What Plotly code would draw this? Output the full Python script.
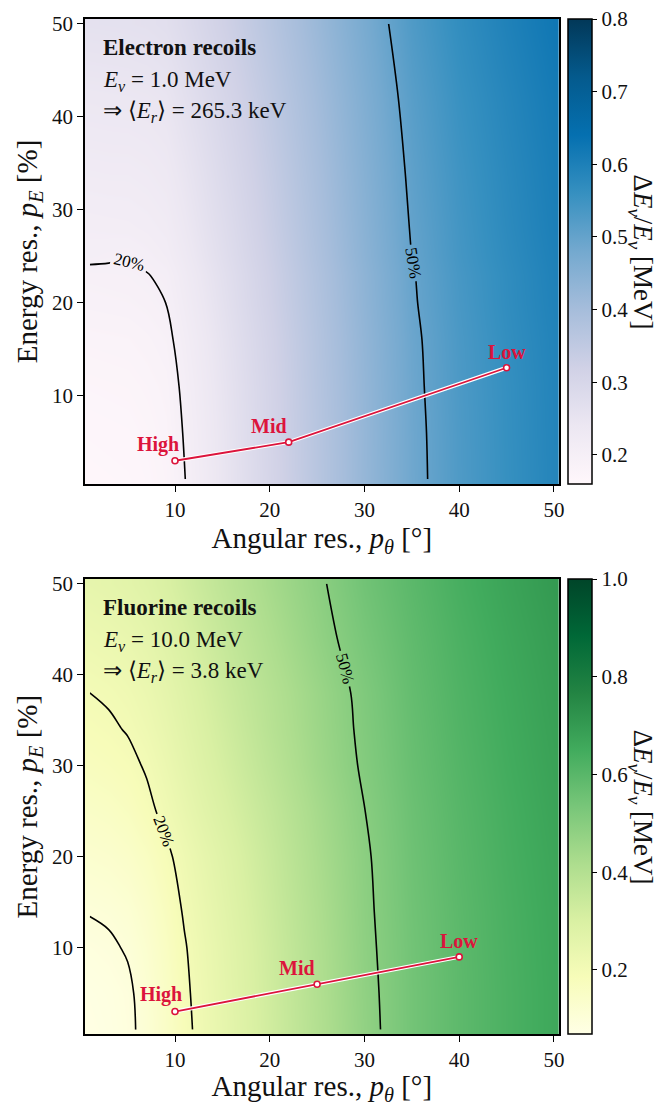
import plotly.graph_objects as go

# ---------------- data ----------------
ang_res = [1, 3, 5, 7, 9, 11, 13, 16, 20, 25, 30, 35, 40, 45, 50]  # p_theta [deg]

# Electron recoils (E_nu = 1.0 MeV)
e_energy_res = [1, 6, 11, 16, 20, 23, 25, 28, 34, 42, 50]  # p_E [%]
e_z = [
    [0.165, 0.166, 0.167, 0.171, 0.178, 0.199, 0.222, 0.258, 0.306, 0.366, 0.426, 0.486, 0.528, 0.560, 0.588],
    [0.168, 0.169, 0.170, 0.174, 0.181, 0.202, 0.224, 0.260, 0.308, 0.367, 0.427, 0.487, 0.529, 0.561, 0.589],
    [0.173, 0.174, 0.175, 0.179, 0.185, 0.206, 0.228, 0.263, 0.310, 0.370, 0.429, 0.489, 0.531, 0.562, 0.590],
    [0.180, 0.181, 0.182, 0.186, 0.192, 0.212, 0.233, 0.268, 0.314, 0.373, 0.432, 0.491, 0.533, 0.565, 0.592],
    [0.189, 0.190, 0.191, 0.194, 0.200, 0.219, 0.240, 0.274, 0.320, 0.377, 0.436, 0.495, 0.536, 0.568, 0.595],
    [0.194, 0.195, 0.196, 0.199, 0.205, 0.224, 0.245, 0.278, 0.323, 0.380, 0.438, 0.497, 0.538, 0.569, 0.597],
    [0.205, 0.203, 0.201, 0.206, 0.213, 0.230, 0.251, 0.283, 0.327, 0.384, 0.442, 0.500, 0.541, 0.572, 0.599],
    [0.209, 0.210, 0.211, 0.214, 0.220, 0.237, 0.257, 0.288, 0.332, 0.388, 0.445, 0.503, 0.543, 0.575, 0.602],
    [0.222, 0.223, 0.223, 0.226, 0.232, 0.248, 0.267, 0.298, 0.340, 0.395, 0.451, 0.508, 0.548, 0.579, 0.606],
    [0.239, 0.240, 0.241, 0.243, 0.248, 0.264, 0.282, 0.311, 0.352, 0.405, 0.460, 0.516, 0.556, 0.586, 0.613],
    [0.261, 0.262, 0.263, 0.265, 0.270, 0.284, 0.301, 0.328, 0.367, 0.418, 0.472, 0.527, 0.566, 0.596, 0.622],
]
e_levels = [0.2, 0.5]
e_pts_x = [10, 22, 45]
e_pts_y = [3, 5, 13]

# Fluorine recoils (E_nu = 10.0 MeV)
f_energy_res = [1, 5, 10, 14, 20, 25, 30, 34, 38, 44, 50]
f_z = [
    [0.074, 0.079, 0.089, 0.115, 0.149, 0.186, 0.219, 0.265, 0.325, 0.401, 0.477, 0.545, 0.590, 0.628, 0.660],
    [0.077, 0.082, 0.091, 0.119, 0.152, 0.190, 0.222, 0.268, 0.328, 0.404, 0.480, 0.545, 0.590, 0.628, 0.660],
    [0.088, 0.093, 0.104, 0.128, 0.160, 0.196, 0.227, 0.272, 0.332, 0.408, 0.484, 0.547, 0.592, 0.630, 0.662],
    [0.102, 0.107, 0.117, 0.139, 0.170, 0.205, 0.235, 0.279, 0.338, 0.413, 0.487, 0.550, 0.594, 0.632, 0.664],
    [0.128, 0.133, 0.143, 0.162, 0.189, 0.219, 0.248, 0.290, 0.348, 0.422, 0.491, 0.555, 0.599, 0.637, 0.668],
    [0.150, 0.156, 0.167, 0.187, 0.213, 0.240, 0.268, 0.308, 0.361, 0.431, 0.499, 0.560, 0.604, 0.641, 0.673],
    [0.172, 0.178, 0.187, 0.205, 0.230, 0.257, 0.285, 0.325, 0.378, 0.446, 0.509, 0.567, 0.610, 0.647, 0.678],
    [0.187, 0.193, 0.203, 0.220, 0.243, 0.269, 0.296, 0.336, 0.389, 0.452, 0.514, 0.571, 0.615, 0.651, 0.682],
    [0.200, 0.206, 0.216, 0.232, 0.254, 0.279, 0.306, 0.346, 0.395, 0.456, 0.518, 0.576, 0.619, 0.655, 0.686],
    [0.225, 0.231, 0.240, 0.255, 0.276, 0.300, 0.326, 0.364, 0.414, 0.475, 0.534, 0.585, 0.627, 0.663, 0.693],
    [0.250, 0.256, 0.265, 0.279, 0.299, 0.322, 0.347, 0.384, 0.432, 0.488, 0.548, 0.595, 0.637, 0.672, 0.702],
]
f_levels = [0.1, 0.2, 0.5]
f_pts_x = [10, 25, 40]
f_pts_y = [3, 6, 9]

pt_labels = ["High", "Mid", "Low"]
axis_ticks = [10, 20, 30, 40, 50]
e_cbar_ticks = [0.2, 0.3, 0.4, 0.5, 0.6, 0.7, 0.8]
f_cbar_ticks = [0.2, 0.4, 0.6, 0.8, 1.0]

panel_titles = [
    ["<b>Electron recoils</b>", "<i>E</i><sub><i>ν</i></sub> = 1.0 MeV", "⇒ ⟨<i>E</i><sub><i>r</i></sub>⟩ = 265.3 keV"],
    ["<b>Fluorine recoils</b>", "<i>E</i><sub><i>ν</i></sub> = 10.0 MeV", "⇒ ⟨<i>E</i><sub><i>r</i></sub>⟩ = 3.8 keV"],
]
cbar_title = "Δ<i>E</i><sub><i>ν</i></sub>/<i>E</i><sub><i>ν</i></sub> [MeV]"
x_title = "Angular res., <i>p</i><sub><i>θ</i></sub> [°]"
y_title = "Energy res., <i>p</i><sub><i>E</i></sub> [%]"

# ---------------- style ----------------
W, H = 660, 1106
FONT = "Liberation Serif"
RED = "#DC143C"
PUBU = ["rgb(255,247,251)", "rgb(236,231,242)", "rgb(208,209,230)", "rgb(166,189,219)",
        "rgb(116,169,207)", "rgb(54,144,192)", "rgb(5,112,176)", "rgb(4,90,141)", "rgb(2,56,88)"]
YLGN = ["rgb(255,255,229)", "rgb(247,252,185)", "rgb(217,240,163)", "rgb(173,221,142)",
        "rgb(120,198,121)", "rgb(65,171,93)", "rgb(35,132,67)", "rgb(0,104,55)", "rgb(0,69,41)"]


def cs(cols):
    n = len(cols) - 1
    return [[i / n, c] for i, c in enumerate(cols)]


x_dom = [85 / W, 558.7 / W]
panels = [
    dict(z=e_z, y=e_energy_res, levels=e_levels, px=e_pts_x, py=e_pts_y, cols=PUBU,
         zmin=0.16, zmax=0.8, ticks=e_cbar_ticks, top=19, bot=484, titles=panel_titles[0],
         tcy=[48, 81, 112], lab_shift=[(-17, 16), (-20, 16), (0, 16)]),
    dict(z=f_z, y=f_energy_res, levels=f_levels, px=f_pts_x, py=f_pts_y, cols=YLGN,
         zmin=0.069, zmax=1.0, ticks=f_cbar_ticks, top=579, bot=1034.3, titles=panel_titles[1],
         tcy=[607, 641, 672], lab_shift=[(-14, 17), (-20, 16), (0, 16)]),
]

fig = go.Figure()
annotations = []
layout_axes = {}

for i, p in enumerate(panels):
    sfx = "" if i == 0 else "2"
    xa, ya = "x" + sfx, "y" + sfx
    y_dom = [1 - p["bot"] / H, 1 - p["top"] / H]

    fig.add_trace(go.Heatmap(
        x=ang_res, y=p["y"], z=p["z"], xaxis=xa, yaxis=ya,
        colorscale=cs(p["cols"]), zmin=p["zmin"], zmax=p["zmax"], zsmooth="best",
        hoverinfo="skip",
        colorbar=dict(
            x=568 / W, xanchor="left", xpad=0, ypad=0,
            y=y_dom[1], yanchor="top", len=y_dom[1] - y_dom[0], lenmode="fraction",
            thickness=24, thicknessmode="pixels",
            outlinewidth=1.5, outlinecolor="black",
            tickvals=p["ticks"], tickformat=".1f", ticks="outside", ticklen=5,
            tickwidth=1.3, tickcolor="black",
            tickfont=dict(family=FONT, size=21, color="#111"),
        ),
    ))

    for lev in p["levels"]:
        fig.add_trace(go.Contour(
            x=ang_res, y=p["y"], z=p["z"], xaxis=xa, yaxis=ya,
            autocontour=False, contours=dict(start=lev, end=lev, size=1, coloring="lines",
                                             showlabels=True, labelformat=".0%",
                                             labelfont=dict(family=FONT, size=17 if lev > 0.15 else 14,
                                                            color="black")),
            colorscale=[[0, "black"], [1, "black"]], showscale=False,
            line=dict(width=1.6, smoothing=1.0, color="black"), hoverinfo="skip",
        ))

    # White halo under the red path
    fig.add_trace(go.Scatter(x=p["px"], y=p["py"], xaxis=xa, yaxis=ya, mode="lines",
                             line=dict(color="white", width=4), hoverinfo="skip", showlegend=False))
    fig.add_trace(go.Scatter(x=p["px"], y=p["py"], xaxis=xa, yaxis=ya, mode="lines+markers",
                             line=dict(color=RED, width=1.8),
                             marker=dict(size=6, color="white", line=dict(color=RED, width=1.6)),
                             hoverinfo="skip", showlegend=False))
    for lab, xx, yy, (dx, dy) in zip(pt_labels, p["px"], p["py"], p["lab_shift"]):
        annotations.append(dict(x=xx, y=yy, xref=xa, yref=ya, text="<b>" + lab + "</b>",
                                showarrow=False, xshift=dx, yshift=dy,
                                font=dict(family=FONT, size=20, color=RED)))

    for j, (t, cy) in enumerate(zip(p["titles"], p["tcy"])):
        annotations.append(dict(x=101 / W, y=1 - cy / H, xref="paper", yref="paper",
                                xanchor="left", yanchor="middle", text=t, showarrow=False,
                                font=dict(family=FONT, size=23, color="#111")))

    # colorbar title (reads top to bottom)
    annotations.append(dict(x=641 / W, y=1 - (p["top"] + p["bot"]) / 2 / H, xref="paper", yref="paper",
                            xanchor="center", yanchor="middle", text=cbar_title, textangle=90,
                            showarrow=False, font=dict(family=FONT, size=27, color="#111")))

    axcommon = dict(showline=True, linecolor="black", linewidth=1.5, mirror=True,
                    ticks="outside", ticklen=6, tickwidth=1.3, tickcolor="black",
                    tickfont=dict(family=FONT, size=21, color="#111"), showgrid=False,
                    zeroline=False, range=[0.5, 50.5], tickvals=axis_ticks, automargin=False)
    layout_axes["xaxis" + sfx] = dict(axcommon, domain=x_dom, anchor=ya,
                                      title=dict(text=x_title,
                                                 font=dict(family=FONT, size=29, color="#111"),
                                                 standoff=4))
    layout_axes["yaxis" + sfx] = dict(axcommon, domain=y_dom, anchor=xa,
                                      title=dict(text=y_title,
                                                 font=dict(family=FONT, size=29, color="#111"),
                                                 standoff=6))

fig.update_layout(
    width=W, height=H, margin=dict(l=0, r=0, t=0, b=0),
    paper_bgcolor="white", plot_bgcolor="white", showlegend=False,
    annotations=annotations, **layout_axes,
)

fig.write_html("out.html")
